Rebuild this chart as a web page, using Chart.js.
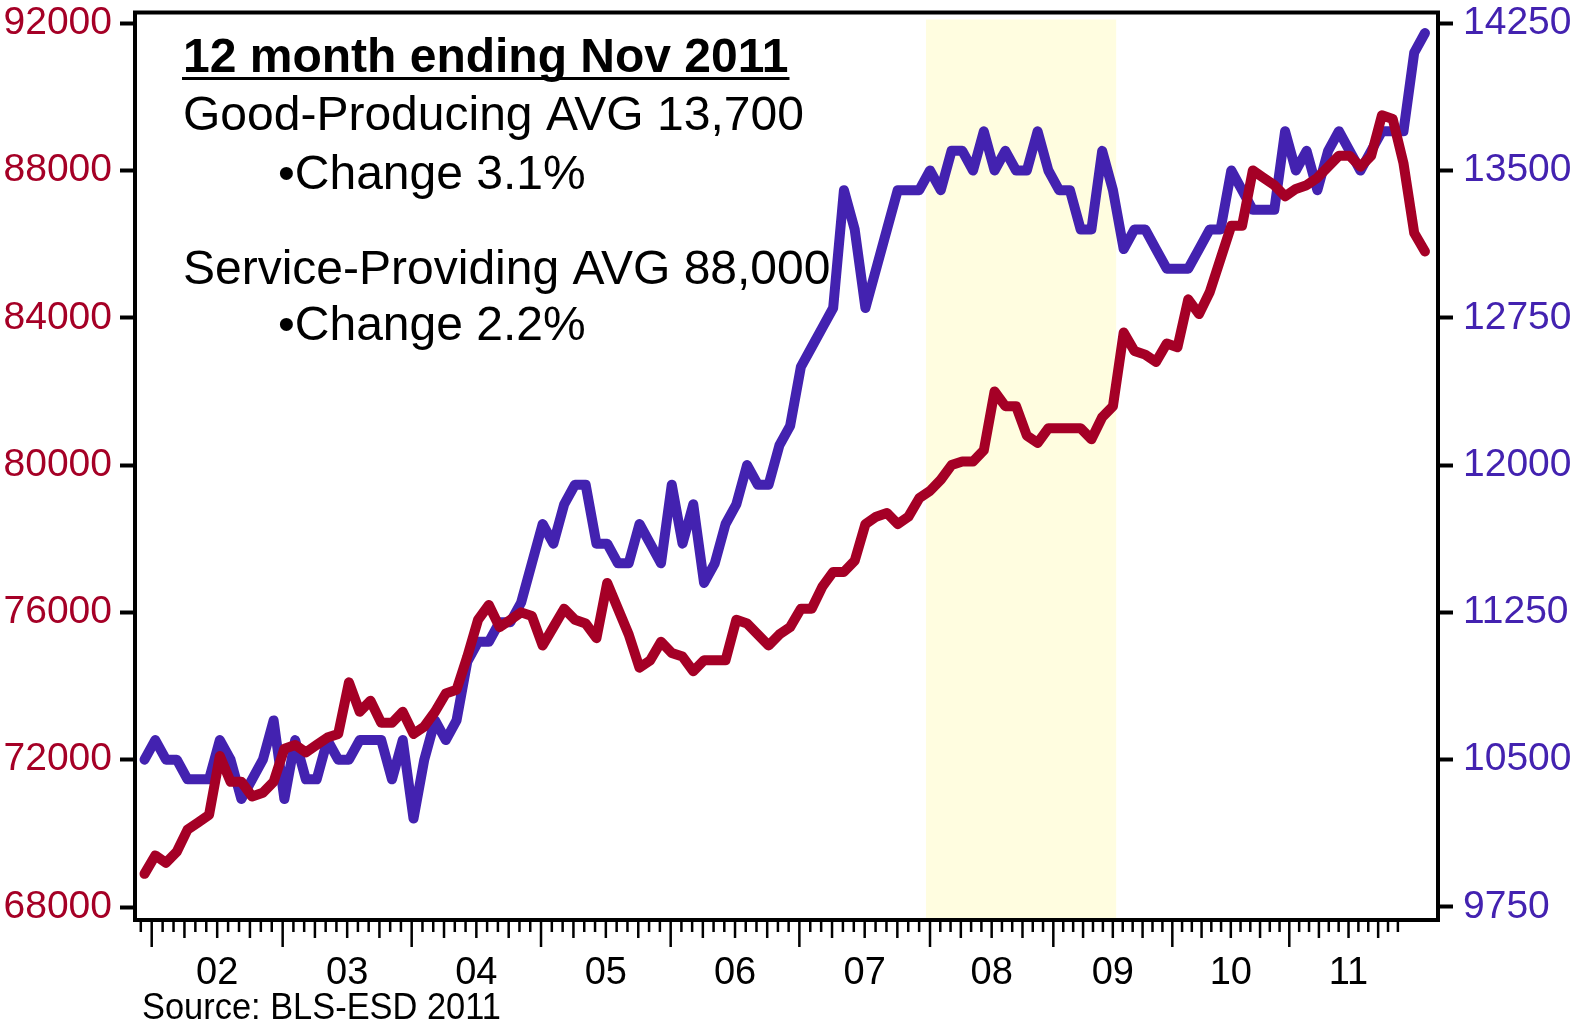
<!DOCTYPE html>
<html>
<head>
<meta charset="utf-8">
<title>Goods-Producing vs Service-Providing</title>
<script src="https://cdn.jsdelivr.net/npm/chart.js@4.4.1/dist/chart.umd.min.js"></script>
<style>
  html, body { margin: 0; padding: 0; background: #ffffff; }
  #box { width: 1573px; height: 1025px; }
</style>
</head>
<body>
<div id="box"><canvas id="grafico" width="1573" height="1025"></canvas></div>
<script>
// one point per month, Dec 2001 .. Nov 2011 (120 months)
const firstYear = 2001;
const firstMonth = 11; // december, 0-based
const monthNames = ["Jan", "Feb", "Mar", "Apr", "May", "Jun", "Jul", "Aug", "Sep", "Oct", "Nov", "Dec"];

// Service-Providing (left axis, red)
const serviceProviding = [
  68900, 69400, 69200, 69500, 70100, 70300, 70500, 72100, 71400, 71400, 71000, 71100,
  71400, 72300, 72400, 72200, 72400, 72600, 72700, 74100, 73300, 73600, 73000, 73000,
  73300, 72700, 72900, 73300, 73800, 73900, 74800, 75800, 76200, 75600, 75800, 76000,
  75900, 75100, 75600, 76100, 75800, 75700, 75300, 76800, 76100, 75400, 74500, 74700,
  75200, 74900, 74800, 74400, 74700, 74700, 74700, 75800, 75700, 75400, 75100, 75400,
  75600, 76100, 76100, 76700, 77100, 77100, 77400, 78400, 78600, 78700, 78400, 78600,
  79100, 79300, 79600, 80000, 80100, 80100, 80400, 82000, 81600, 81600, 80800, 80600,
  81000, 81000, 81000, 81000, 80700, 81300, 81600, 83600, 83100, 83000, 82800, 83300,
  83200, 84500, 84100, 84700, 85600, 86500, 86500, 88000, 87800, 87600, 87300, 87500,
  87600, 87800, 88100, 88400, 88400, 88100, 88400, 89500, 89400, 88200, 86300, 85800
];

// Goods-Producing (right axis, blue)
const goodsProducing = [
  10500, 10600, 10500, 10500, 10400, 10400, 10400, 10600, 10500, 10300, 10400, 10500,
  10700, 10300, 10600, 10400, 10400, 10600, 10500, 10500, 10600, 10600, 10600, 10400,
  10600, 10200, 10500, 10700, 10600, 10700, 11000, 11100, 11100, 11200, 11200, 11300,
  11500, 11700, 11600, 11800, 11900, 11900, 11600, 11600, 11500, 11500, 11700, 11600,
  11500, 11900, 11600, 11800, 11400, 11500, 11700, 11800, 12000, 11900, 11900, 12100,
  12200, 12500, 12600, 12700, 12800, 13400, 13200, 12800, 13000, 13200, 13400, 13400,
  13400, 13500, 13400, 13600, 13600, 13500, 13700, 13500, 13600, 13500, 13500, 13700,
  13500, 13400, 13400, 13200, 13200, 13600, 13400, 13100, 13200, 13200, 13100, 13000,
  13000, 13000, 13100, 13200, 13200, 13500, 13400, 13300, 13300, 13300, 13700, 13500,
  13600, 13400, 13600, 13700, 13600, 13500, 13600, 13700, 13700, 13700, 14100, 14200
];

const serviceTicks = [68000, 72000, 76000, 80000, 84000, 88000, 92000];
const goodsTicks = [9750, 10500, 11250, 12000, 12750, 13500, 14250];

const yearLabels = ["02", "03", "04", "05", "06", "07", "08", "09", "10", "11"];
// where each January sits, counted in months from the first point
// (the original axis is not evenly spaced in the later years)
const yearStarts = [0.67, 12.84, 24.83, 36.85, 48.9, 60.86, 73.0, 84.46, 95.52, 106.39, 117.4];

// shaded period (recession), same units as above
const shadeFrom = 72.63;
const shadeTo = 90.3;
const shadeTop = 92100;

const FONT = "'Liberation Sans', Arial, sans-serif";
const RED = "#a50026";
const BLUE = "#4322b0";

var months = [];
for (var i = 0; i < serviceProviding.length; i++) {
  var m = (firstMonth + i) % 12;
  var y = firstYear + Math.floor((firstMonth + i) / 12);
  months.push(monthNames[m] + " " + y);
}

function pontos(valores) {
  return valores.map(function (v, i) {
    return { x: i, y: v };
  });
}

// yellow band, frame, month ticks and the notes
const extras = {
  id: "extras",
  beforeDatasetsDraw(chart) {
    const ctx = chart.ctx;
    const area = chart.chartArea;
    const x1 = chart.scales.x.getPixelForValue(shadeFrom);
    const x2 = chart.scales.x.getPixelForValue(shadeTo);
    const top = chart.scales.y.getPixelForValue(shadeTop);
    ctx.save();
    ctx.fillStyle = "#fffde0";
    ctx.fillRect(x1, top, x2 - x1, area.bottom - top);
    ctx.restore();
  },
  afterDraw(chart) {
    const ctx = chart.ctx;
    const area = chart.chartArea;
    const xs = chart.scales.x;

    ctx.save();
    ctx.strokeStyle = "#000";
    ctx.lineWidth = 4;
    ctx.lineJoin = "miter";
    ctx.strokeRect(area.left, area.top, area.right - area.left, area.bottom - area.top);

    // month ticks under the axis
    ctx.lineWidth = 2.5;
    ctx.beginPath();
    var first = yearStarts[0] - (yearStarts[1] - yearStarts[0]) / 12;
    var px = xs.getPixelForValue(first);
    ctx.moveTo(px, area.bottom + 2);
    ctx.lineTo(px, area.bottom + 12);
    for (var k = 0; k < yearStarts.length - 1; k++) {
      var a = yearStarts[k];
      var b = yearStarts[k + 1];
      for (var j = 0; j < 12; j++) {
        px = xs.getPixelForValue(a + (b - a) * j / 12);
        var len = j === 0 ? 27 : (j % 3 === 0 ? 18 : 12);
        ctx.moveTo(px, area.bottom + 2);
        ctx.lineTo(px, area.bottom + len);
      }
    }
    ctx.stroke();

    // notes
    ctx.fillStyle = "#000";
    ctx.textBaseline = "alphabetic";
    ctx.font = "bold 48px " + FONT;
    var titulo = "12 month ending Nov 2011";
    ctx.fillText(titulo, 183, 72);
    ctx.fillRect(182, 77, ctx.measureText(titulo).width + 2, 3);

    ctx.font = "48px " + FONT;
    ctx.fillText("Good-Producing AVG 13,700", 183, 130);
    ctx.fillText("\u2022Change 3.1%", 278, 189);
    ctx.fillText("Service-Providing AVG 88,000", 183, 284);
    ctx.fillText("\u2022Change 2.2%", 278, 340);

    // source
    ctx.font = "37px " + FONT;
    ctx.translate(142, 1019);
    ctx.scale(0.93, 1);
    ctx.fillText("Source: BLS-ESD 2011", 0, 0);
    ctx.restore();
  }
};

function semPadding(scale) {
  scale.paddingTop = 0;
  scale.paddingBottom = 0;
  scale.paddingLeft = 0;
  scale.paddingRight = 0;
}

function semVirgula(value) {
  return String(value);
}

document.addEventListener("DOMContentLoaded", function () {
  const canvas = document.getElementById("grafico");

  new Chart(canvas, {
    type: "line",
    data: {
      labels: months,
      datasets: [
        {
          label: "Service-Providing",
          data: pontos(serviceProviding),
          yAxisID: "y",
          borderColor: RED,
          backgroundColor: RED,
          borderWidth: 10,
          borderJoinStyle: "round",
          borderCapStyle: "round",
          pointRadius: 0,
          tension: 0,
        },
        {
          label: "Goods-Producing",
          data: pontos(goodsProducing),
          yAxisID: "y2",
          borderColor: BLUE,
          backgroundColor: BLUE,
          borderWidth: 10,
          borderJoinStyle: "round",
          borderCapStyle: "round",
          pointRadius: 0,
          tension: 0,
        },
      ],
    },
    options: {
      responsive: false,
      animation: false,
      layout: { autoPadding: false, padding: { top: 12.5, left: 0, right: 0, bottom: 0 } },
      plugins: {
        legend: { display: false },
        tooltip: { enabled: false },
      },
      scales: {
        x: {
          type: "linear",
          min: -0.883,
          max: 120.21,
          grid: { display: false, drawTicks: false },
          border: { display: false },
          ticks: {
            color: "#000",
            font: { family: FONT, size: 38 },
            padding: 31,
            maxRotation: 0,
            autoSkip: false,
            callback: function (value, index) {
              return yearLabels[index];
            },
          },
          afterBuildTicks: function (scale) {
            scale.ticks = yearLabels.map(function (l, k) {
              return { value: (yearStarts[k] + yearStarts[k + 1]) / 2 };
            });
          },
          afterFit: function (scale) {
            scale.height = 105;
            semPadding(scale);
          },
        },
        y: {
          position: "left",
          min: 67647,
          max: 92290,
          grid: { drawOnChartArea: false, tickLength: 15, tickWidth: 4, tickColor: "#000" },
          border: { display: false },
          ticks: {
            color: RED,
            font: { family: FONT, size: 39 },
            padding: 8,
            callback: semVirgula,
          },
          afterBuildTicks: function (scale) {
            scale.ticks = serviceTicks.map(function (v) { return { value: v }; });
          },
          afterFit: function (scale) {
            scale.width = 135;
            semPadding(scale);
          },
        },
        y2: {
          position: "right",
          min: 9683.8,
          max: 14304.5,
          grid: { drawOnChartArea: false, tickLength: 15, tickWidth: 4, tickColor: "#000" },
          border: { display: false },
          ticks: {
            color: BLUE,
            font: { family: FONT, size: 39 },
            padding: 10,
            callback: semVirgula,
          },
          afterBuildTicks: function (scale) {
            scale.ticks = goodsTicks.map(function (v) { return { value: v }; });
          },
          afterFit: function (scale) {
            scale.width = 135;
            semPadding(scale);
          },
        },
      },
    },
    plugins: [extras],
  });
});
</script>
</body>
</html>
